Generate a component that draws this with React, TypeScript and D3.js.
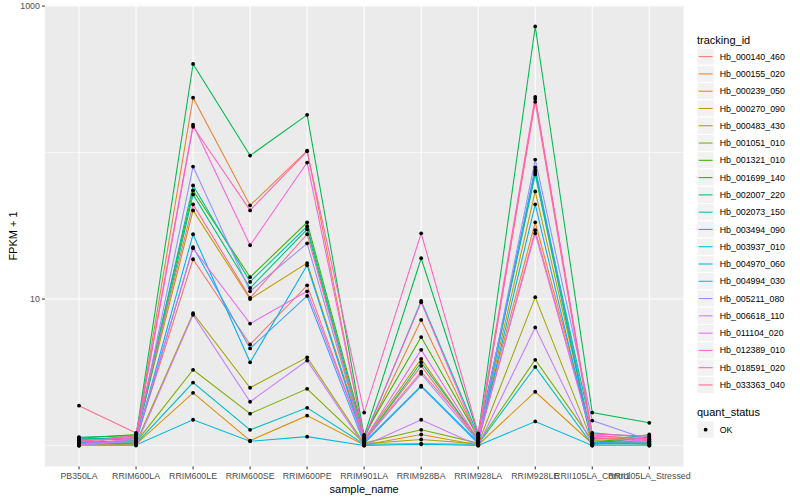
import React from "react";
import * as d3 from "d3";

const sampleNames = ["PB350LA", "RRIM600LA", "RRIM600LE", "RRIM600SE", "RRIM600PE", "RRIM901LA", "RRIM928BA", "RRIM928LA", "RRIM928LE", "RRII105LA_Control", "RRII105LA_Stressed"];

const trackingIds = ["Hb_000140_460", "Hb_000155_020", "Hb_000239_050", "Hb_000270_090", "Hb_000483_430", "Hb_001051_010", "Hb_001321_010", "Hb_001699_140", "Hb_002007_220", "Hb_002073_150", "Hb_003494_090", "Hb_003937_010", "Hb_004970_060", "Hb_004994_030", "Hb_005211_080", "Hb_006618_110", "Hb_011104_020", "Hb_012389_010", "Hb_018591_020", "Hb_033363_040"];

const trackingColors = ["#F8766D", "#EA8331", "#D89000", "#C09B00", "#A3A500", "#7CAE00", "#39B600", "#00BB4E", "#00BF7D", "#00C1A3", "#00BFC4", "#00BAE0", "#00B0F6", "#35A2FF", "#9590FF", "#C77CFF", "#E76BF3", "#FA62DB", "#FF62BC", "#FF6C91"];

// FPKM + 1 per sample (order of sampleNames)
const hb000140 = [1.04, 1.1, 18.7, 4.9, 12.4, 1.08, 3.5, 1.06, 29.5, 1.14, 1.08];
const hb000155 = [1.07, 1.14, 237, 43.6, 103, 1.12, 7.2, 1.12, 33.4, 1.18, 1.1];
const hb000239 = [1.01, 1.02, 2.29, 1.08, 1.6, 1.01, 1.19, 1.01, 2.33, 1.03, 1.03];
const hb000270 = [1.09, 1.16, 40.3, 10.0, 17.6, 1.1, 3.9, 1.08, 54.3, 1.1, 1.05];
const hb000483 = [1.02, 1.04, 8.0, 2.48, 4.0, 1.03, 1.1, 1.03, 10.3, 1.06, 1.02];
const hb001051 = [1.03, 1.05, 3.29, 1.65, 2.44, 1.04, 1.28, 1.04, 3.85, 1.08, 1.03];
const hb001321 = [1.12, 1.19, 55.1, 14.1, 33.4, 1.18, 5.5, 1.14, 75.5, 1.04, 1.19];
const hb001699 = [1.14, 1.17, 403, 95.4, 181, 1.16, 19.0, 1.19, 726, 1.68, 1.43];
const hb002007 = [1.13, 1.08, 51.8, 11.9, 29.9, 1.06, 3.7, 1.1, 70.9, 1.02, 1.15];
const hb002073 = [1.11, 1.12, 59.7, 13.1, 31.4, 1.11, 9.7, 1.17, 73.1, 1.22, 1.13];
const hb003494 = [1.05, 1.03, 2.69, 1.28, 1.81, 1.02, 1.03, 1.02, 3.44, 1.01, 1.01];
const hb003937 = [1.0, 1.01, 1.5, 1.07, 1.15, 1.0, 1.02, 1.0, 1.46, 1.0, 1.0];
const hb004970 = [1.06, 1.07, 27.7, 3.7, 17.0, 1.05, 2.56, 1.05, 44.3, 1.03, 1.04];
const hb004994 = [1.04, 1.06, 22.6, 4.6, 10.5, 1.03, 2.52, 1.03, 79.1, 1.05, 1.06];
const hb005211 = [1.0, 1.08, 80.3, 11.3, 24.0, 1.07, 3.09, 1.07, 89.6, 1.48, 1.09];
const hb006618 = [1.0, 1.0, 7.8, 1.99, 3.8, 1.0, 1.5, 1.0, 6.4, 1.0, 1.0];
const hb011104 = [1.01, 1.11, 22.2, 6.8, 11.3, 1.09, 4.5, 1.09, 28.1, 1.12, 1.07];
const hb012389 = [1.02, 1.18, 155, 23.3, 85.5, 1.14, 9.5, 1.11, 233, 1.16, 1.11];
const hb018591 = [1.08, 1.13, 150, 40.3, 102, 1.68, 28.1, 1.21, 240, 1.2, 1.16];
const hb033363 = [1.87, 1.22, 44.3, 10.2, 27.7, 1.09, 3.19, 1.13, 222, 1.12, 1.1];

const seriesValues = [hb000140, hb000155, hb000239, hb000270, hb000483, hb001051, hb001321, hb001699, hb002007, hb002073, hb003494, hb003937, hb004970, hb004994, hb005211, hb006618, hb011104, hb012389, hb018591, hb033363];

const yMajorTicks = [10, 1000];
const yMinorTicks = [1, 100];

const FONT = "'Liberation Sans', Arial, Helvetica, sans-serif";

export default function App() {
  const left = 44.8, right = 683.5, top = 5.5, bottom = 466.5;

  const x = d3.scalePoint<string>().domain(sampleNames).range([left, right]).padding(0.6);

  const all = seriesValues.flat();
  const [mn, mx] = d3.extent(all) as [number, number];
  const lmn = Math.log10(mn), lmx = Math.log10(mx);
  const ex = (lmx - lmn) * 0.05;
  const y = d3.scaleLog().domain([Math.pow(10, lmn - ex), Math.pow(10, lmx + ex)]).range([bottom, top]);

  const line = d3.line<number>()
    .x((_, i) => x(sampleNames[i]) as number)
    .y((d) => y(d));

  const legendX = 697;
  const keyW = 17.28, keyH = 17.28;
  const keyTop = 48;

  return (
    <svg width={800} height={500} style={{ position: "absolute", left: 0, top: 0, background: "#fff" }} fontFamily={FONT}>
      <rect x={0} y={0} width={800} height={500} fill="#fff" />
      {/* panel */}
      <rect x={left} y={top} width={right - left} height={bottom - top} fill="#EBEBEB" />
      {yMinorTicks.map((t) => (
        <line key={"mn" + t} x1={left} x2={right} y1={y(t)} y2={y(t)} stroke="#fff" strokeWidth={0.53} />
      ))}
      {yMajorTicks.map((t) => (
        <line key={"mj" + t} x1={left} x2={right} y1={y(t)} y2={y(t)} stroke="#fff" strokeWidth={1.07} />
      ))}
      {sampleNames.map((s) => (
        <line key={"vx" + s} x1={x(s)} x2={x(s)} y1={top} y2={bottom} stroke="#fff" strokeWidth={1.07} />
      ))}
      {/* lines */}
      {seriesValues.map((vals, i) => (
        <path key={"l" + i} d={line(vals) || ""} fill="none" stroke={trackingColors[i]} strokeWidth={1.07} />
      ))}
      {/* points */}
      {seriesValues.map((vals, i) =>
        vals.map((v, j) => (
          <circle key={"p" + i + "_" + j} cx={x(sampleNames[j])} cy={y(v)} r={1.9} fill="#000" />
        ))
      )}
      {/* y axis */}
      {yMajorTicks.map((t) => (
        <g key={"yt" + t}>
          <line x1={left - 2.75} x2={left} y1={y(t)} y2={y(t)} stroke="#333" strokeWidth={1.07} />
          <text x={left - 4.95} y={y(t)} dy="0.35em" textAnchor="end" fontSize={8.8} fill="#4D4D4D">{d3.format("d")(t)}</text>
        </g>
      ))}
      {/* x axis */}
      {sampleNames.map((s) => (
        <g key={"xt" + s}>
          <line x1={x(s)} x2={x(s)} y1={bottom} y2={bottom + 2.75} stroke="#333" strokeWidth={1.07} />
          <text x={x(s)} y={bottom + 12.5} textAnchor="middle" fontSize={8.8} fill="#4D4D4D">{s}</text>
        </g>
      ))}
      <text x={(left + right) / 2} y={492.5} textAnchor="middle" fontSize={11} fill="#000">sample_name</text>
      <text transform={`translate(16.5,${(top + bottom) / 2}) rotate(-90)`} textAnchor="middle" fontSize={11} fill="#000">FPKM + 1</text>
      {/* legend */}
      <text x={legendX} y={43.5} fontSize={11} fill="#000">tracking_id</text>
      {trackingIds.map((id, i) => {
        const ky = keyTop + i * keyH;
        return (
          <g key={"lg" + id}>
            <rect x={legendX} y={ky} width={keyW} height={keyH} fill="#F2F2F2" stroke="#fff" strokeWidth={1} />
            <line x1={legendX + 1.7} x2={legendX + keyW - 1.7} y1={ky + keyH / 2} y2={ky + keyH / 2} stroke={trackingColors[i]} strokeWidth={1.07} />
            <text x={legendX + keyW + 5.5} y={ky + keyH / 2} dy="0.35em" fontSize={8.8} fill="#000">{id}</text>
          </g>
        );
      })}
      <text x={legendX} y={416} fontSize={11} fill="#000">quant_status</text>
      <rect x={legendX} y={421} width={keyW} height={keyH} fill="#F2F2F2" stroke="#fff" strokeWidth={1} />
      <circle cx={legendX + keyW / 2} cy={421 + keyH / 2} r={1.9} fill="#000" />
      <text x={legendX + keyW + 5.5} y={421 + keyH / 2} dy="0.35em" fontSize={8.8} fill="#000">OK</text>
    </svg>
  );
}
